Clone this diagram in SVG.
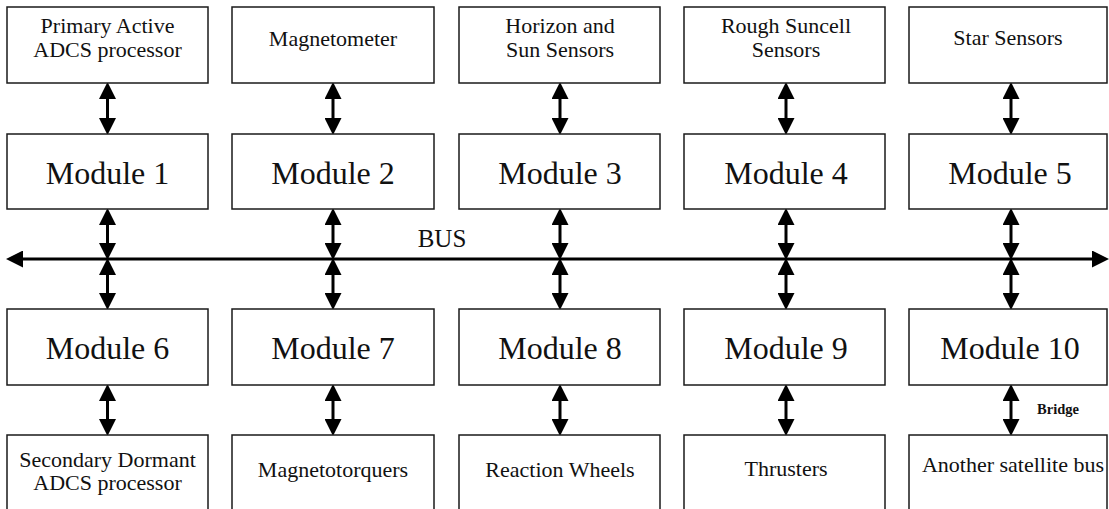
<svg xmlns="http://www.w3.org/2000/svg" width="1109" height="509" viewBox="0 0 1109 509">
<style>
.box{fill:#fff;stroke:#1a1a1a;stroke-width:1.5}
.t{font-family:"Liberation Serif","Times New Roman",serif;font-size:22px;fill:#111;text-anchor:middle}
.m{font-family:"Liberation Serif","Times New Roman",serif;font-size:32px;fill:#111;text-anchor:middle}
.lbl{font-family:"Liberation Serif","Times New Roman",serif;fill:#111}
.c{stroke:#000;stroke-width:3;fill:none;marker-start:url(#ah);marker-end:url(#ah)}
</style>
<defs>
<marker id="ah" viewBox="0 0 17 17" refX="8" refY="8.5" markerWidth="17" markerHeight="17" markerUnits="userSpaceOnUse" orient="auto-start-reverse">
<path d="M0,0 L17,8.5 L0,17 z" fill="#000"/>
</marker>
</defs>
<rect width="1109" height="509" fill="#fff"/>

<g id="connectors">
<line class="c" x1="15" y1="259" x2="1100" y2="259"/>
<line class="c" x1="107.5" y1="91" x2="107.5" y2="126"/>
<line class="c" x1="107.5" y1="217" x2="107.5" y2="251"/>
<line class="c" x1="107.5" y1="267" x2="107.5" y2="301"/>
<line class="c" x1="107.5" y1="393" x2="107.5" y2="427"/>
<line class="c" x1="333" y1="91" x2="333" y2="126"/>
<line class="c" x1="333" y1="217" x2="333" y2="251"/>
<line class="c" x1="333" y1="267" x2="333" y2="301"/>
<line class="c" x1="333" y1="393" x2="333" y2="427"/>
<line class="c" x1="560" y1="91" x2="560" y2="126"/>
<line class="c" x1="560" y1="217" x2="560" y2="251"/>
<line class="c" x1="560" y1="267" x2="560" y2="301"/>
<line class="c" x1="560" y1="393" x2="560" y2="427"/>
<line class="c" x1="786" y1="91" x2="786" y2="126"/>
<line class="c" x1="786" y1="217" x2="786" y2="251"/>
<line class="c" x1="786" y1="267" x2="786" y2="301"/>
<line class="c" x1="786" y1="393" x2="786" y2="427"/>
<line class="c" x1="1011" y1="91" x2="1011" y2="126"/>
<line class="c" x1="1011" y1="217" x2="1011" y2="251"/>
<line class="c" x1="1011" y1="267" x2="1011" y2="301"/>
<line class="c" x1="1011" y1="393" x2="1011" y2="427"/>
<text class="lbl" x="442" y="247" font-size="25" text-anchor="middle">BUS</text>
<text class="lbl" x="1058" y="414" font-size="14.5" font-weight="bold" text-anchor="middle">Bridge</text>
</g>

<g id="n-primary"><rect class="box" x="7" y="7" width="201" height="76"/><text class="t" x="107.5" y="33">Primary Active</text><text class="t" x="107.5" y="57">ADCS processor</text></g>
<g id="n-magnetometer"><rect class="box" x="232" y="7" width="202" height="76"/><text class="t" x="333" y="46">Magnetometer</text></g>
<g id="n-horizon"><rect class="box" x="459" y="7" width="201" height="76"/><text class="t" x="560" y="33">Horizon and</text><text class="t" x="560" y="57">Sun Sensors</text></g>
<g id="n-rough"><rect class="box" x="684" y="7" width="201" height="76"/><text class="t" x="786" y="33">Rough Suncell</text><text class="t" x="786" y="57">Sensors</text></g>
<g id="n-star"><rect class="box" x="909" y="7" width="198" height="76"/><text class="t" x="1008" y="45">Star Sensors</text></g>

<g id="n-module1"><rect class="box" x="7" y="134" width="201" height="75"/><text class="m" x="107.5" y="184">Module 1</text></g>
<g id="n-module2"><rect class="box" x="232" y="134" width="202" height="75"/><text class="m" x="333" y="184">Module 2</text></g>
<g id="n-module3"><rect class="box" x="459" y="134" width="201" height="75"/><text class="m" x="560" y="184">Module 3</text></g>
<g id="n-module4"><rect class="box" x="684" y="134" width="201" height="75"/><text class="m" x="786" y="184">Module 4</text></g>
<g id="n-module5"><rect class="box" x="909" y="134" width="198" height="75"/><text class="m" x="1010" y="184">Module 5</text></g>

<g id="n-module6"><rect class="box" x="7" y="309" width="201" height="76"/><text class="m" x="107.5" y="359">Module 6</text></g>
<g id="n-module7"><rect class="box" x="232" y="309" width="202" height="76"/><text class="m" x="333" y="359">Module 7</text></g>
<g id="n-module8"><rect class="box" x="459" y="309" width="201" height="76"/><text class="m" x="560" y="359">Module 8</text></g>
<g id="n-module9"><rect class="box" x="684" y="309" width="201" height="76"/><text class="m" x="786" y="359">Module 9</text></g>
<g id="n-module10"><rect class="box" x="909" y="309" width="198" height="76"/><text class="m" x="1010" y="359">Module 10</text></g>

<g id="n-secondary"><rect class="box" x="7" y="435" width="201" height="80"/><text class="t" x="107.5" y="467">Secondary Dormant</text><text class="t" x="107.5" y="490">ADCS processor</text></g>
<g id="n-magnetotorquers"><rect class="box" x="232" y="435" width="202" height="80"/><text class="t" x="333" y="477">Magnetotorquers</text></g>
<g id="n-wheels"><rect class="box" x="459" y="435" width="201" height="80"/><text class="t" x="560" y="477">Reaction Wheels</text></g>
<g id="n-thrusters"><rect class="box" x="684" y="435" width="201" height="80"/><text class="t" x="786" y="476">Thrusters</text></g>
<g id="n-another"><rect class="box" x="909" y="435" width="198" height="80"/><text class="t" x="1013" y="472">Another satellite bus</text></g>
</svg>
